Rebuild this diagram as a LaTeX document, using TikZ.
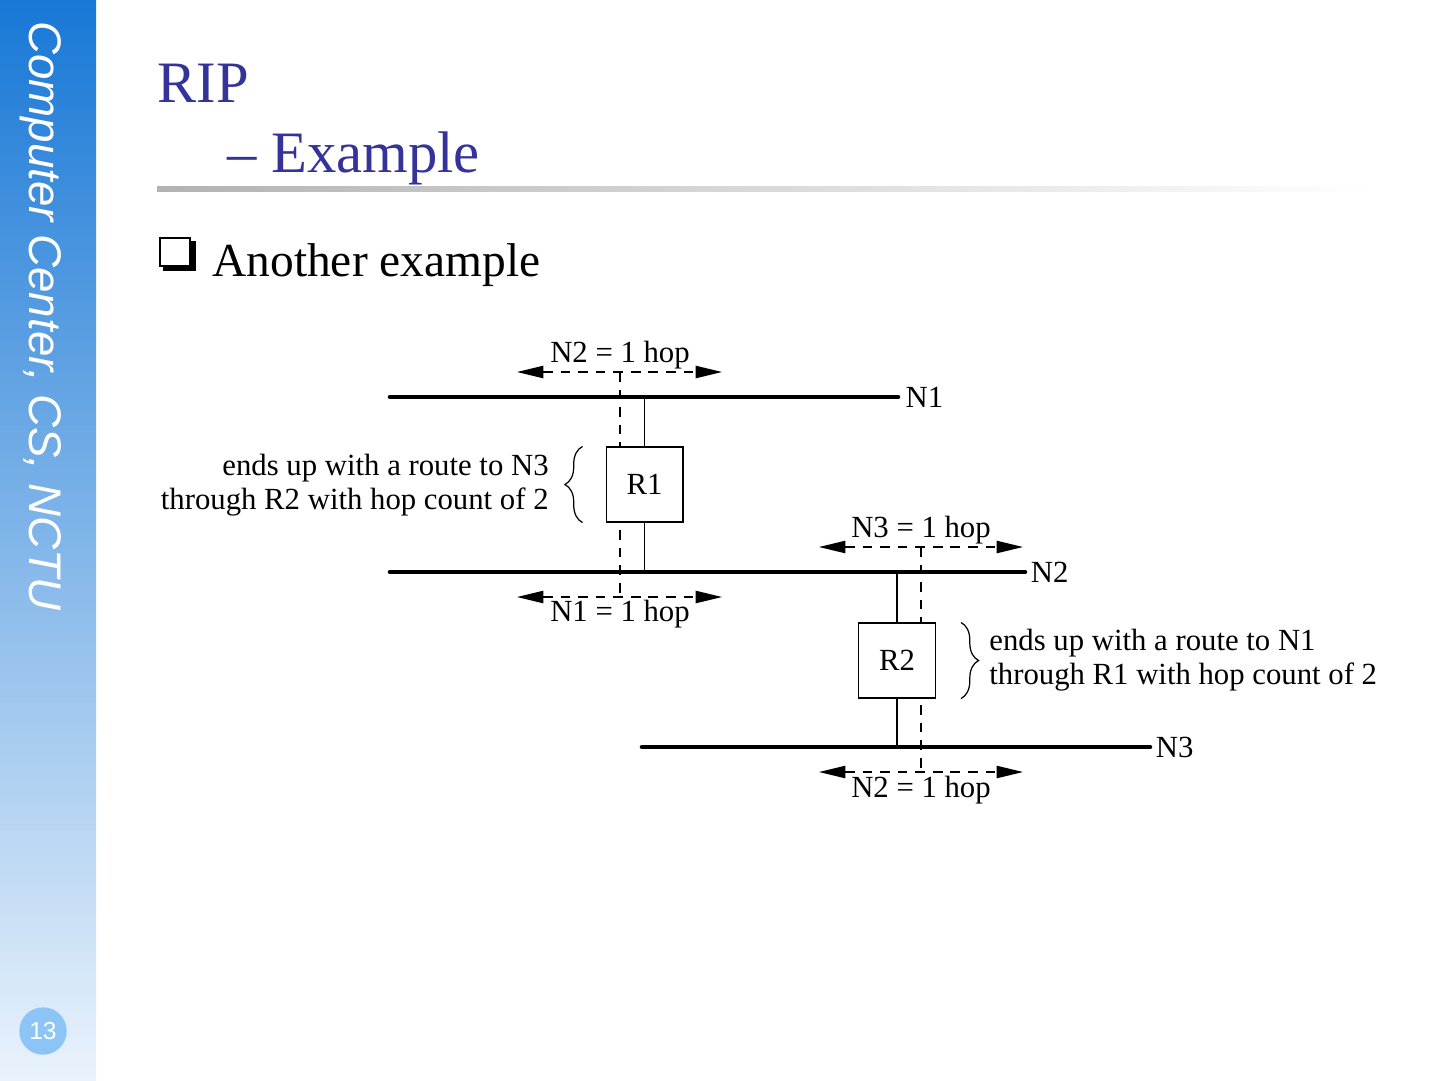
\documentclass[tikz,border=0pt]{standalone}
\usepackage{fontspec}
\setmainfont{Liberation Serif}
\setsansfont{Liberation Sans}
\usetikzlibrary{positioning,arrows.meta,calc,decorations.pathreplacing}
\definecolor{TitleBlue}{RGB}{51,51,153}
\definecolor{BarTop}{RGB}{24,120,214}
\definecolor{BarBottom}{RGB}{234,243,252}
\definecolor{PageBlue}{RGB}{140,196,245}
\tikzset{
    net/.style={line width=2.6pt, line cap=round},
    link/.style={line width=0.8pt},
    router/.style={draw, fill=white, line width=0.8pt, minimum width=43.6pt, minimum height=42.5pt, inner sep=0pt, font=\fontsize{17.5}{20}\selectfont},
    hop/.style={dash pattern=on 5.5pt off 4.5pt, line width=0.8pt},
    hoparrow/.style={hop, {Triangle[length=15pt,width=7pt]}-{Triangle[length=15pt,width=7pt]}},
    lbl/.style={font=\fontsize{17.5}{20}\selectfont, inner sep=0pt},
    note/.style={font=\fontsize{17.5}{19.6}\selectfont, inner sep=0pt},
    curly/.style={decorate, decoration={brace, amplitude=10pt}, line width=0.7pt},
}

\begin{document}
\begin{tikzpicture}[x=0.02cm, y=-0.02cm]
    \useasboundingbox (0,0) rectangle (1440,1080);
    % side bar
    \shade[top color=BarTop, bottom color=BarBottom] (0,0) rectangle (96,1080);
    \node[rotate=-90, anchor=base west, inner sep=0pt, text=white, font=\sffamily\itshape\fontsize{26}{30}\selectfont] (side) at (30,21) {Computer Center, CS, NCTU};
    \node[circle, fill=PageBlue, minimum size=27pt, inner sep=0pt, text=white, font=\sffamily\fontsize{14}{16}\selectfont] (page) at (43,1031) {13};

    % title
    \node[anchor=base west, inner sep=0pt, text=TitleBlue, font=\fontsize{33.4}{40}\selectfont] (title) at (157,102) {RIP};
    \node[anchor=base west, inner sep=0pt, text=TitleBlue, font=\fontsize{33.4}{40}\selectfont] (subtitle) at (227,172) {\textendash\ Example};
    \shade[left color=black!30, right color=white] (157,186) rectangle (1370,191);

    % bullet
    \fill (163,241) rectangle (196,271);
    \draw[fill=white, line width=1.1pt] (160,238) rectangle (190,266);
    \node[anchor=base west, inner sep=0pt, font=\fontsize{27}{32}\selectfont] (bullet) at (212,276) {Another example};

    % networks
    \coordinate (n1w) at (390,397);
    \coordinate (n1e) at (898,397);
    \coordinate (n2w) at (390,572);
    \coordinate (n2e) at (1025,572);
    \coordinate (n3w) at (642,747);
    \coordinate (n3e) at (1150,747);
    \draw[net] (n1w) -- (n1e) node[lbl, right=3pt] (n1) {N1};
    \draw[net] (n2w) -- (n2e) node[lbl, right=2pt] (n2) {N2};
    \draw[net] (n3w) -- (n3e) node[lbl, right=2pt] (n3) {N3};

    % hop counts seen by R1
    \coordinate (d1t) at (620,372);
    \coordinate (d1b) at (620,597);
    \draw[hop] (d1t) -- (d1b);
    \draw[hoparrow] ($(d1t)+(-103,0)$) -- ($(d1t)+(102,0)$);
    \draw[hoparrow] ($(d1b)+(-103,0)$) -- ($(d1b)+(102,0)$);
    \node[lbl, anchor=base] (h1up) at ($(d1t)+(0,-10)$) {N2 = 1 hop};
    \node[lbl, anchor=base] (h1dn) at ($(d1b)+(0,24)$) {N1 = 1 hop};

    % hop counts seen by R2
    \coordinate (d2t) at (921,547);
    \coordinate (d2b) at (921,772);
    \draw[hop] (d2t) -- (d2b);
    \draw[hoparrow] ($(d2t)+(-102,0)$) -- ($(d2t)+(102,0)$);
    \draw[hoparrow] ($(d2b)+(-102,0)$) -- ($(d2b)+(102,0)$);
    \node[lbl, anchor=base] (h2up) at ($(d2t)+(0,-10)$) {N3 = 1 hop};
    \node[lbl, anchor=base] (h2dn) at ($(d2b)+(0,25)$) {N2 = 1 hop};

    % routers
    \node[router] (r1) at (644.5,484.5) {R1};
    \node[router] (r2) at (897,660.5) {R2};
    \draw[link] (r1.north) -- (r1.north |- n1w);
    \draw[link] (r1.south) -- (r1.south |- n2w);
    \draw[link] (r2.north) -- (r2.north |- n2w);
    \draw[link] (r2.south) -- (r2.south |- n3w);

    % notes
    \draw[curly] ($(r1.south west)+(-23,0)$) -- ($(r1.north west)+(-23,0)$);
    \node[note, align=right, anchor=east] (note1) at (549,485) {ends up with a route to N3\\through R2 with hop count of 2};
    \draw[curly] ($(r2.north east)+(25,0)$) -- ($(r2.south east)+(25,0)$);
    \node[note, align=left, anchor=west] (note2) at (989,660) {ends up with a route to N1\\through R1 with hop count of 2};
\end{tikzpicture}
\end{document}
